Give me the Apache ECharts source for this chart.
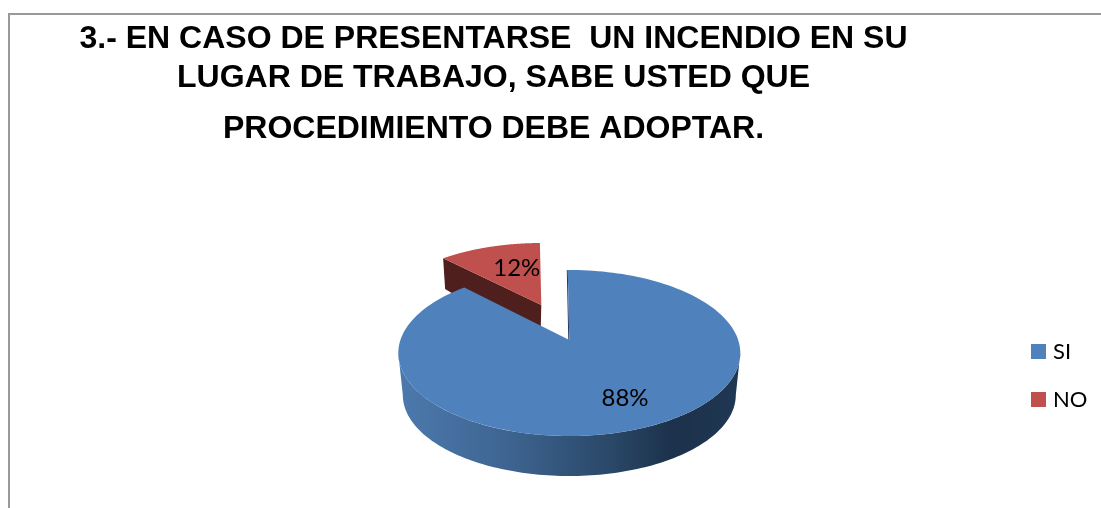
<!DOCTYPE html>
<html><head><meta charset="utf-8">
<style>html,body{margin:0;padding:0;background:#fff}#c{width:1101px;height:508px}</style>
<script src="https://cdn.jsdelivr.net/npm/echarts@6/dist/echarts.min.js"></script>
</head><body><div id="c"></div>
<script>
const titleLines = ['3.- EN CASO DE PRESENTARSE  UN INCENDIO EN SU','LUGAR DE TRABAJO, SABE USTED QUE','PROCEDIMIENTO DEBE ADOPTAR.'];
const categories = ['SI','NO'];
const values = [88,12];
const colors = ['#4f81bd','#c0504d'];

const total = values.reduce((a,b)=>a+b,0);
const startDeg = -0.6;
const toRad = d => d*Math.PI/180;
const sliceRange = i => {
  const before = values.slice(0,i).reduce((a,b)=>a+b,0);
  return [startDeg+before/total*360, startDeg+(before+values[i])/total*360];
};
// perspective disc: unit circle -> ellipse, with the centre pushed away from the viewer
function project(g, theta, r){
  const x = r*Math.sin(theta), y = r*Math.cos(theta), d = 1+g.a*y;
  return [g.cx + g.rx*x*Math.sqrt(1-g.a*g.a)/d, g.cy - g.ry*(y+g.a)/d];
}
function sectorPoints(g, range){
  const pts = [project(g,0,0)], n = 160;
  for(let k=0;k<=n;k++) pts.push(project(g,toRad(range[0]+(range[1]-range[0])*k/n),1));
  return pts;
}
function arc(g, from, to){
  const pts=[], n=120;
  for(let k=0;k<=n;k++){const p=toRad(from+(to-from)*k/n);pts.push([g.cx+g.rx*Math.sin(p),g.cy-g.ry*Math.cos(p)]);}
  return pts;
}
const discSI = {cx:569.3,cy:353,rx:171,ry:83,a:0.157};
const baseSI = {cx:569.3,cy:395,rx:166.5,ry:81};
const discNO = {cx:541.3,cy:318,rx:162,ry:75,a:0.173};
const labelFont = '24px Lato';

function renderSI(params, api){
  const v = api.value(0), range = sliceRange(0);
  const mid = toRad((range[0]+range[1])/2);
  const lp = project(discSI, mid, 0.7);
  const wall = arc(discSI,90,270).concat(arc(baseSI,270,90));
  const cutTop = project(discSI,toRad(range[0]),1), cutIn = project(discSI,0,0);
  return {type:'group',children:[
    {type:'polygon',shape:{points:wall},style:{fill:{type:'linear',x:0,y:0,x2:1,y2:0,colorStops:[
      {offset:0,color:'#4c79ad'},{offset:0.3,color:'#3f6693'},{offset:0.62,color:'#2a4868'},{offset:0.8,color:'#1c314b'},{offset:1,color:'#1f3853'}]}}},
    {type:'line',shape:{x1:cutTop[0]-0.5,y1:cutTop[1],x2:cutIn[0]-0.5,y2:cutIn[1]},style:{stroke:'#1f3a5c',lineWidth:1}},
    {type:'polygon',shape:{points:sectorPoints(discSI,range)},style:{fill:colors[0]}},
    {type:'text',x:lp[0]+6,y:lp[1],style:{text:v+'%',font:labelFont,fill:'#000',align:'center',verticalAlign:'middle'}}
  ]};
}
function renderNO(params, api){
  const v = api.value(0), range = sliceRange(1);
  const mid = toRad((range[0]+range[1])/2);
  const lp = project(discNO, mid, 0.6);
  const a = project(discNO,toRad(range[0]),1), c = project(discNO,0,0);
  const drop = 42;
  const wall = [a,c,[c[0]-1,c[1]+drop],[a[0]+2,a[1]+drop*0.73]];
  return {type:'group',children:[
    {type:'polygon',shape:{points:wall},style:{fill:'#4e1f1c'}},
    {type:'polygon',shape:{points:sectorPoints(discNO,range)},style:{fill:colors[1]}},
    {type:'text',x:lp[0]+8.5,y:lp[1],style:{text:v+'%',font:labelFont,fill:'#000',align:'center',verticalAlign:'middle'}}
  ]};
}
const titleStyle = {fontFamily:'Liberation Sans',fontWeight:'bold',fontSize:32,color:'#000'};
const titleTops = [23,62,113];
const chart = echarts.init(document.getElementById('c'),null,{renderer:'canvas'});
chart.setOption({
  animation:false,
  backgroundColor:'#fff',
  title:titleLines.map((t,i)=>({text:t,left:493.5,top:titleTops[i],textAlign:'center',padding:0,textStyle:titleStyle})),
  legend:{orient:'vertical',left:1031,top:340.5,padding:0,itemWidth:15,itemHeight:15,itemGap:26,icon:'rect',
    data:categories,selectedMode:false,
    textStyle:{fontFamily:'Lato',fontSize:22,color:'#000',padding:[0,0,0,2]}},
  graphic:[
    {type:'line',silent:true,shape:{x1:8,y1:14,x2:1101,y2:14},style:{stroke:'#999',lineWidth:2}},
    {type:'line',silent:true,shape:{x1:9,y1:13,x2:9,y2:508},style:{stroke:'#999',lineWidth:2}}
  ],
  series:[
    {type:'custom',name:categories[1],coordinateSystem:'none',renderItem:renderNO,data:[[values[1]]],itemStyle:{color:colors[1]},z:2},
    {type:'custom',name:categories[0],coordinateSystem:'none',renderItem:renderSI,data:[[values[0]]],itemStyle:{color:colors[0]},z:3}
  ]
});
</script></body></html>
